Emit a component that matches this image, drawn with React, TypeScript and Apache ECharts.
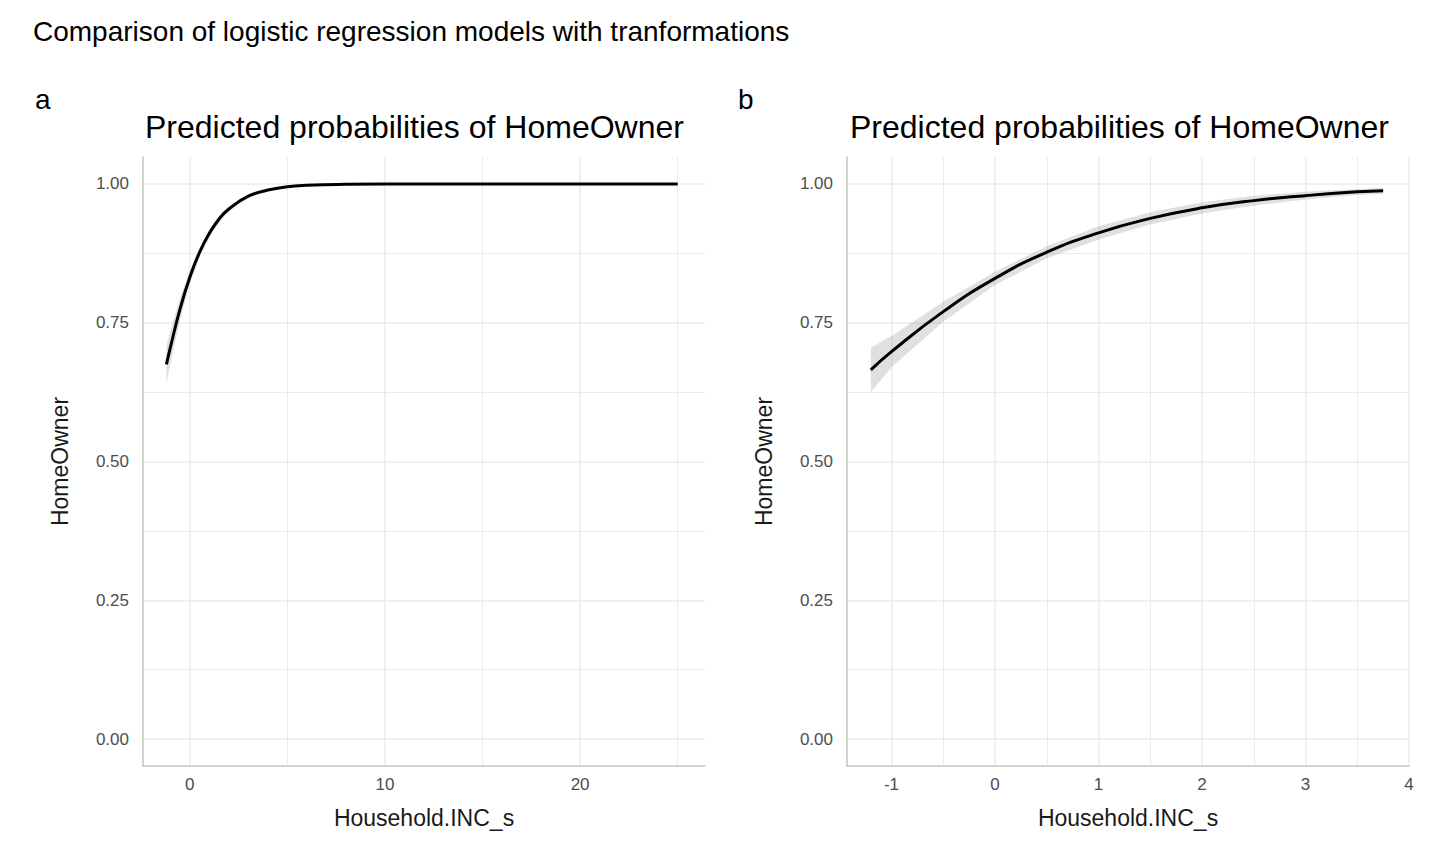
import { useEffect, useRef } from "react";
import * as echarts from "echarts";

// panel a
const xA = [-1.2, -1, -0.5, 0, 0.5, 1, 1.5, 2, 3, 4, 5, 6, 8, 10, 15, 20, 25];
const yA = [0.675, 0.705, 0.775, 0.832, 0.877, 0.911, 0.937, 0.955, 0.978, 0.989, 0.995, 0.9975, 0.9994, 1, 1, 1, 1];
const loA = [0.64, 0.675, 0.755, 0.82, 0.868, 0.903, 0.93, 0.95, 0.975, 0.987, 0.994, 0.997, 0.9992, 1, 1, 1, 1];
const hiA = [0.71, 0.735, 0.795, 0.844, 0.886, 0.918, 0.943, 0.96, 0.981, 0.991, 0.996, 0.998, 0.9996, 1, 1, 1, 1];

// panel b
const xB = [-1.2, -1, -0.5, 0, 0.5, 1, 1.5, 2, 2.5, 3, 3.5, 3.75];
const yB = [0.665, 0.698, 0.77, 0.83, 0.877, 0.912, 0.938, 0.957, 0.97, 0.979, 0.986, 0.988];
const loB = [0.625, 0.67, 0.752, 0.818, 0.866, 0.9, 0.927, 0.947, 0.961, 0.972, 0.98, 0.982];
const hiB = [0.705, 0.726, 0.788, 0.842, 0.888, 0.924, 0.949, 0.967, 0.979, 0.986, 0.991, 0.993];

const yMajor = [0, 0.25, 0.5, 0.75, 1];
const yMinor = [0.125, 0.375, 0.625, 0.875];
const xMajorA = [0, 10, 20];
const xMinorA = [5, 15, 25];
const xMajorB = [-1, 0, 1, 2, 3, 4];
const xMinorB = [-0.5, 0.5, 1.5, 2.5, 3.5];

const GRID = "#ebebeb";
const AXIS = "#c4c4c4";
const LABEL = "#4d4d4d";
const TITLE = "#1a1a1a";
const FONT = "Liberation Sans, Arial, sans-serif";

function axisPair(type: "x" | "y", gi: number, min: number, max: number, major: number[], minor: number[], name: string) {
  const base = { type: "value", gridIndex: gi, min, max };
  const main = {
    ...base,
    name,
    nameLocation: "middle",
    nameGap: type === "x" ? 40 : 72,
    nameTextStyle: { fontSize: 23, color: TITLE, fontFamily: FONT },
    axisLine: { show: true, onZero: false, lineStyle: { color: AXIS, width: 1.5 } },
    axisTick: { show: false, customValues: major },
    axisLabel: {
      customValues: major, fontSize: 17, color: LABEL, fontFamily: FONT,
      margin: type === "x" ? 10 : 14,
      formatter: type === "y" ? (v: number) => v.toFixed(2) : (v: number) => String(v),
    },
    splitLine: { show: true, lineStyle: { color: GRID, width: 1.5 } },
    z: 3,
  };
  const sub = {
    ...base,
    axisLine: { show: false },
    axisTick: { show: false, customValues: minor },
    axisLabel: { show: false, customValues: minor },
    splitLine: { show: true, lineStyle: { color: GRID, width: 1 } },
  };
  return [main, sub];
}

function bandSeries(gi: number, xs: number[], lo: number[], hi: number[], ys: number[]) {
  const ax = { xAxisIndex: gi * 2, yAxisIndex: gi * 2 };
  return [
    {
      type: "custom", ...ax, silent: true, z: 4,
      data: [[xs[0], lo[0]]],
      renderItem: (_p: any, api: any) => {
        const pts: number[][] = [];
        xs.forEach((x, i) => pts.push(api.coord([x, hi[i]])));
        for (let i = xs.length - 1; i >= 0; i--) pts.push(api.coord([xs[i], lo[i]]));
        return { type: "polygon", shape: { points: pts }, style: { fill: "rgba(153,153,153,0.3)" } };
      },
    },
    {
      type: "line", ...ax, symbol: "none", smooth: true,
      data: xs.map((x, i) => [x, ys[i]]),
      lineStyle: { color: "#000", width: 3 }, z: 5,
    },
  ];
}

export default function App() {
  const chartRef = useRef(null);

  useEffect(() => {
    document.body.style.margin = "0";
    const chart = echarts.init(chartRef.current, null, { renderer: "svg" });
    const [xa, xa2] = axisPair("x", 0, -2.4, 26.4, xMajorA, xMinorA, "Household.INC_s");
    const [ya, ya2] = axisPair("y", 0, -0.0486, 1.0486, yMajor, yMinor, "HomeOwner");
    const [xb, xb2] = axisPair("x", 1, -1.43, 4, xMajorB, xMinorB, "Household.INC_s");
    const [yb, yb2] = axisPair("y", 1, -0.0486, 1.0486, yMajor, yMinor, "HomeOwner");

    const big = { fontWeight: "normal", color: "#000", fontFamily: FONT };
    chart.setOption({
      animation: false,
      backgroundColor: "#fff",
      textStyle: { fontFamily: FONT },
      title: [
        { text: "Comparison of logistic regression models with tranformations", left: 28, top: 12, textStyle: { ...big, fontSize: 28 } },
        { text: "a", left: 30, top: 80, textStyle: { ...big, fontSize: 28 } },
        { text: "b", left: 733, top: 80, textStyle: { ...big, fontSize: 28 } },
        { text: "Predicted probabilities of HomeOwner", left: 140, top: 106, textStyle: { ...big, fontSize: 32 } },
        { text: "Predicted probabilities of HomeOwner", left: 845, top: 106, textStyle: { ...big, fontSize: 32 } },
      ],
      grid: [
        { left: 143, right: 735, top: 157, bottom: 98 },
        { left: 847, right: 31, top: 157, bottom: 98 },
      ],
      xAxis: [
        { ...xa, position: "bottom" }, xa2,
        { ...xb, position: "bottom" }, xb2,
      ],
      yAxis: [ya, ya2, yb, yb2],
      series: [
        ...bandSeries(0, xA, loA, hiA, yA),
        ...bandSeries(1, xB, loB, hiB, yB),
      ],
    });

    return () => {
      chart.dispose();
    };
  }, []);

  return <div ref={chartRef} style={{ width: "1440px", height: "864px" }} />;
}
